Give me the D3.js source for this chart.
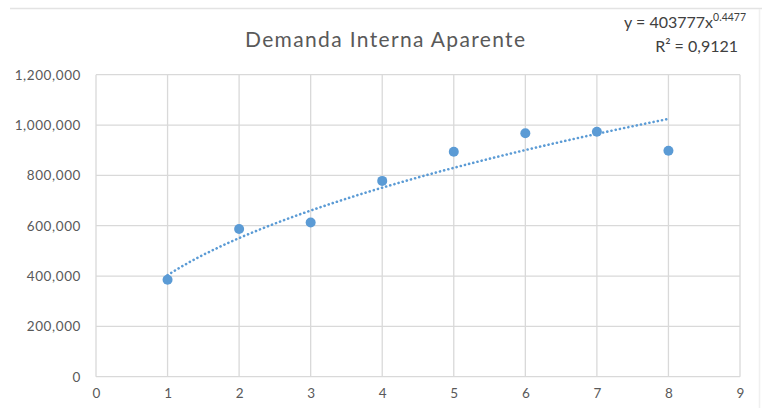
<!DOCTYPE html>
<html>
<head>
<meta charset="utf-8">
<script src="https://cdn.jsdelivr.net/npm/d3@7"></script>
<style>
  body { margin: 0; background: #fff; }
  svg { display: block; }
</style>
</head>
<body>
<svg id="chart" width="762" height="408"></svg>
<script>
// ---- Data ----
const xValues = [1, 2, 3, 4, 5, 6, 7, 8];
const yValues = [385000, 587000, 613000, 778000, 894000, 967000, 973000, 898000];
const xTicks = [0, 1, 2, 3, 4, 5, 6, 7, 8, 9];
const yTicks = [0, 200000, 400000, 600000, 800000, 1000000, 1200000];
const trendCoef = 403777;
const trendExp = 0.4477;
const trendLabel1 = "y = 403777x";
const trendLabel1Sup = "0.4477";
const trendLabel2 = "R² = 0,9121";
const titleText = "Demanda Interna Aparente";

// ---- Layout ----
const svg = d3.select("#chart");
const W = 762, H = 408;
const font = "Lato, 'Open Sans', sans-serif";
const gridColor = "#d9d9d9";
const textColor = "#595959";
const blue = "#5B9BD5";

const x = d3.scaleLinear().domain([0, 9]).range([96, 740]);
const y = d3.scaleLinear().domain([0, 1200000]).range([376.7, 74.7]);

// frame artifacts
svg.append("line").attr("x1", 10).attr("x2", W).attr("y1", 8.5).attr("y2", 8.5)
  .attr("stroke", "#e3e3e3").attr("stroke-width", 1.5);
svg.append("line").attr("x1", 759.5).attr("x2", 759.5).attr("y1", 9).attr("y2", H)
  .attr("stroke", "#f0f0f0").attr("stroke-width", 1.5);

// gridlines
svg.append("g").selectAll("line").data(yTicks).join("line")
  .attr("x1", x(0)).attr("x2", x(9))
  .attr("y1", d => y(d)).attr("y2", d => y(d))
  .attr("stroke", gridColor).attr("stroke-width", 1.3);
svg.append("g").selectAll("line").data(xTicks).join("line")
  .attr("x1", d => x(d)).attr("x2", d => x(d))
  .attr("y1", y(0)).attr("y2", y(1200000))
  .attr("stroke", gridColor).attr("stroke-width", 1.3);

// axes (labels only)
const fmt = d3.format(",");
const yAxis = d3.axisLeft(y).tickValues(yTicks).tickFormat(fmt).tickSize(0).tickPadding(15);
const gy = svg.append("g").attr("transform", `translate(${x(0)},0)`).call(yAxis);
gy.select(".domain").remove();
gy.selectAll("text").attr("fill", textColor).style("font-family", font)
  .style("font-size", "13.5px").style("letter-spacing", "0.6px");

const xAxis = d3.axisBottom(x).tickValues(xTicks).tickFormat(d3.format("d")).tickSize(0).tickPadding(12);
const gx = svg.append("g").attr("transform", `translate(0,${y(0)})`).call(xAxis);
gx.select(".domain").remove();
gx.selectAll("text").attr("fill", textColor).style("font-family", font).style("font-size", "13.5px");

// trendline
const trendPts = d3.range(1, 8.001, 0.05).map(v => [v, trendCoef * Math.pow(v, trendExp)]);
svg.append("path")
  .datum(trendPts)
  .attr("fill", "none")
  .attr("stroke", blue)
  .attr("stroke-width", 2.6)
  .attr("stroke-dasharray", "0.1 4.2")
  .attr("stroke-linecap", "round")
  .attr("d", d3.line().x(d => x(d[0])).y(d => y(d[1])));

// points
svg.append("g").selectAll("circle").data(xValues).join("circle")
  .attr("cx", d => x(d))
  .attr("cy", (d, i) => y(yValues[i]))
  .attr("r", 5)
  .attr("fill", blue);

// title
svg.append("text").attr("x", 385).attr("y", 47)
  .attr("text-anchor", "middle").attr("fill", textColor)
  .style("font-family", font).style("font-size", "21px")
  .attr("textLength", 280).attr("lengthAdjust", "spacing")
  .text(titleText);

// trend equation
const eq = svg.append("text").attr("x", 746).attr("y", 28)
  .attr("text-anchor", "end").attr("fill", "#404040")
  .style("font-family", font).style("font-size", "16px");
eq.append("tspan").text(trendLabel1);
eq.append("tspan").attr("dy", -7).style("font-size", "10.5px").text(trendLabel1Sup);

svg.append("text").attr("x", 738).attr("y", 52)
  .attr("text-anchor", "end").attr("fill", "#404040")
  .style("font-family", font).style("font-size", "16px")
  .text(trendLabel2);
</script>
</body>
</html>
